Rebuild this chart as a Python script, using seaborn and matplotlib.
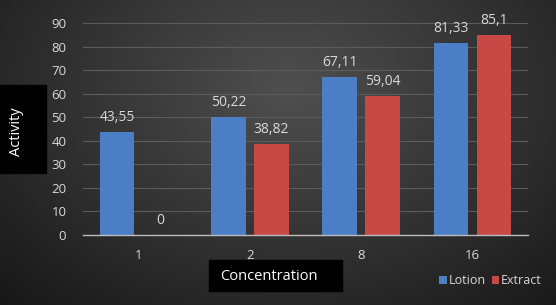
import numpy as np
import pandas as pd
import matplotlib
matplotlib.use("Agg")
import matplotlib.pyplot as plt
import seaborn as sns
from matplotlib.patches import Rectangle

categories = ["1", "2", "8", "16"]
lotion = [43.55, 50.22, 67.11, 81.33]
extract = [0, 38.82, 59.04, 85.1]
series_names = ["Lotion", "Extract"]
y_ticks = [0, 10, 20, 30, 40, 50, 60, 70, 80, 90]

df = pd.DataFrame({
    "Concentration": categories * 2,
    "Activity": lotion + extract,
    "Series": [series_names[0]] * len(categories) + [series_names[1]] * len(categories),
})

sns.set_theme(style="dark")
plt.rcParams["font.family"] = ["Open Sans", "DejaVu Sans"]

W, H = 556, 305
fig = plt.figure(figsize=(W / 100, H / 100), dpi=100)

# background radial gradient
bg = fig.add_axes([0, 0, 1, 1], zorder=-10)
yy, xx = np.mgrid[0:H, 0:W]
d = np.sqrt(((xx - 290) / 360.0) ** 2 + ((yy - 90) / 260.0) ** 2)
val = np.clip(0.31 - 0.19 * d, 0.06, 0.33)
img = np.dstack([val, val, val])
bg.imshow(img, extent=[0, W, H, 0], aspect="auto")
bg.set_xlim(0, W)
bg.set_ylim(H, 0)
bg.axis("off")

ax = fig.add_axes([83 / W, 70 / H, 445 / W, 212 / H])
ax.patch.set_alpha(0)
text_col = "#d9d9d9"
sns.barplot(data=df, x="Concentration", y="Activity", hue="Series",
            order=categories, hue_order=series_names,
            palette=["#4a7fc6", "#c84846"], width=0.775, gap=0.2,
            saturation=1, linewidth=0, edgecolor="none", ax=ax, legend=True)

ax.set_xlim(-0.5, len(categories) - 0.5)
ax.set_ylim(0, 90)
ax.set_yticks(y_ticks)
ax.yaxis.grid(True, color="#5c5c5c", linewidth=0.8)
ax.xaxis.grid(False)
ax.set_axisbelow(True)
for s in ["top", "right", "left"]:
    ax.spines[s].set_visible(False)
ax.spines["bottom"].set_color("#bdbdbd")
ax.spines["bottom"].set_linewidth(1.0)
ax.spines["bottom"].set_zorder(3)
ax.tick_params(axis="both", colors=text_col, labelsize=9.5, length=0)
ax.tick_params(axis="y", pad=12)
ax.tick_params(axis="x", pad=10)
ax.set_xlabel("")
ax.set_ylabel("")

for cont, vals in zip(ax.containers, [lotion, extract]):
    labels = [f"{v:g}".replace(".", ",") for v in vals]
    ax.bar_label(cont, labels=labels, padding=5, color=text_col, fontsize=10)

leg = ax.legend(loc="lower left", bbox_to_anchor=(434 / W, 13 / H),
                bbox_transform=fig.transFigure, ncol=2, frameon=False,
                fontsize=9, handlelength=0.6, handleheight=0.6,
                handletextpad=0.15, columnspacing=0.5, borderaxespad=0)
for t in leg.get_texts():
    t.set_color(text_col)
for h in leg.legend_handles:
    h.set_edgecolor("none")
    h.set_linewidth(0)

# axis label boxes
fig.patches.append(Rectangle((0, (H - 173) / H), 46 / W, 88 / H,
                             transform=fig.transFigure, color="black", zorder=5))
fig.text(17 / W, (H - 132) / H, "Activity", rotation=90, color="white",
         fontsize=10.5, ha="center", va="center", zorder=6)
fig.patches.append(Rectangle((209 / W, (H - 291) / H), 133 / W, 31 / H,
                             transform=fig.transFigure, color="black", zorder=5))
fig.text(220 / W, (H - 276) / H, "Concentration", color="white",
         fontsize=10.5, ha="left", va="center", zorder=6)

fig.savefig("out.png", dpi=100)
